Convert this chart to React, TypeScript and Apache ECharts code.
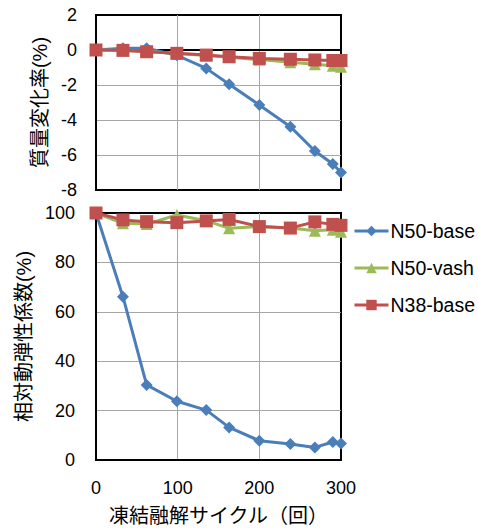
import React, { useEffect, useRef } from "react";
import * as echarts from "echarts";

const cycles = [0, 33, 62, 99, 135, 163, 200, 238, 268, 290, 300];
const massN50base = [0, 0.1, 0.1, -0.3, -1.05, -1.96, -3.14, -4.38, -5.77, -6.51, -7.0];
const massN50vash = [0, -0.03, -0.08, -0.2, -0.32, -0.42, -0.55, -0.7, -0.82, -0.9, -0.95];
const massN38base = [0, -0.02, -0.1, -0.19, -0.29, -0.38, -0.48, -0.53, -0.57, -0.6, -0.6];
const rdmN50base = [100, 66.1, 30.4, 23.8, 20.2, 13.2, 7.8, 6.5, 5.1, 7.3, 6.7];
const rdmN50vash = [100, 95.8, 95.5, 99.2, 96.9, 93.8, 94.5, 93.9, 92.8, 93.2, 92.4];
const rdmN38base = [100, 97.2, 96.5, 96.1, 96.8, 97.4, 94.5, 93.9, 96.4, 95.4, 95.0];

const seriesNames = ["N50-base", "N50-vash", "N38-base"];
const xTitle = "凍結融解サイクル（回）";
const yTitleTop = "質量変化率(%)";
const yTitleBottom = "相対動弾性係数(%)";

const FONT = "'Liberation Sans', 'Noto Sans CJK JP', sans-serif";
const colors = ["#4A7EBB", "#9BBB59", "#C0504D"];
const symbols = ["diamond", "triangle", "rect"];
const symbolSizes = [12, 12, 13];

const pair = (ys: number[]) => cycles.map((c, i) => [c, ys[i]]);

export default function App() {
  const ref = useRef<HTMLDivElement>(null);
  useEffect(() => {
    if (!ref.current) return;
    const chart = echarts.init(ref.current, null, { renderer: "svg" });
    const topData = [massN50base, massN50vash, massN38base];
    const botData = [rdmN50base, rdmN50vash, rdmN38base];
    const mk = (data: number[][], idx: number, axis: number) => ({
      name: seriesNames[idx],
      type: "line",
      xAxisIndex: axis,
      yAxisIndex: axis,
      data,
      symbol: symbols[idx],
      symbolSize: symbolSizes[idx],
      lineStyle: { color: colors[idx], width: 3 },
      itemStyle: { color: colors[idx] },
      z: 2 + idx,
    });
    const splitLine = {
      show: true,
      showMinLine: false,
      showMaxLine: false,
      lineStyle: { color: "#A6A6A6", width: 1 },
    };
    const axisLine = { show: true, lineStyle: { color: "#000", width: 2 } };
    const label = { color: "#000", fontSize: 18, fontFamily: FONT };
    const nameStyle = { color: "#000", fontSize: 20, fontFamily: FONT };
    chart.setOption({
      animation: false,
      backgroundColor: "#fff",
      textStyle: { fontFamily: FONT },
      legend: {
        orient: "vertical",
        left: 353,
        top: 221,
        padding: 0,
        itemWidth: 34,
        itemHeight: 13,
        itemGap: 17,
        data: seriesNames,
        lineStyle: { width: 3 },
        textStyle: { color: "#000", fontSize: 19.5, fontFamily: FONT, lineHeight: 20, padding: [0, 0, 0, -3] },
      },
      grid: [
        { left: 96, top: 15, width: 245, height: 175, show: true, borderColor: "#000", borderWidth: 2, containLabel: false },
        { left: 96, top: 213, width: 245, height: 247, show: true, borderColor: "#000", borderWidth: 2, containLabel: false },
      ],
      xAxis: [
        {
          type: "value", gridIndex: 0, min: 0, max: 300, interval: 100,
          axisLine, axisTick: { show: false }, axisLabel: { show: false }, splitLine,
        },
        {
          type: "value", gridIndex: 1, min: 0, max: 300, interval: 100,
          axisLine, axisTick: { show: false }, axisLabel: { ...label, margin: 19 }, splitLine,
          name: xTitle, nameLocation: "middle", nameGap: 46,
          nameTextStyle: nameStyle,
        },
      ],
      yAxis: [
        {
          type: "value", gridIndex: 0, min: -8, max: 2, interval: 2,
          axisLine, axisTick: { show: false }, axisLabel: { ...label, margin: 19 }, splitLine,
          name: yTitleTop, nameLocation: "middle", nameGap: 41,
          nameTextStyle: nameStyle,
        },
        {
          type: "value", gridIndex: 1, min: 0, max: 100, interval: 20,
          axisLine, axisTick: { show: false }, axisLabel: { ...label, margin: 21 }, splitLine,
          name: yTitleBottom, nameLocation: "middle", nameGap: 41,
          nameTextStyle: nameStyle,
        },
      ],
      series: [
        ...topData.map((d, i) => mk(pair(d), i, 0)),
        ...botData.map((d, i) => mk(pair(d), i, 1)),
      ],
    });
    return () => chart.dispose();
  }, []);
  return (
    <div
      ref={ref}
      style={{ position: "fixed", left: 0, top: 0, width: 478, height: 528 }}
    />
  );
}
